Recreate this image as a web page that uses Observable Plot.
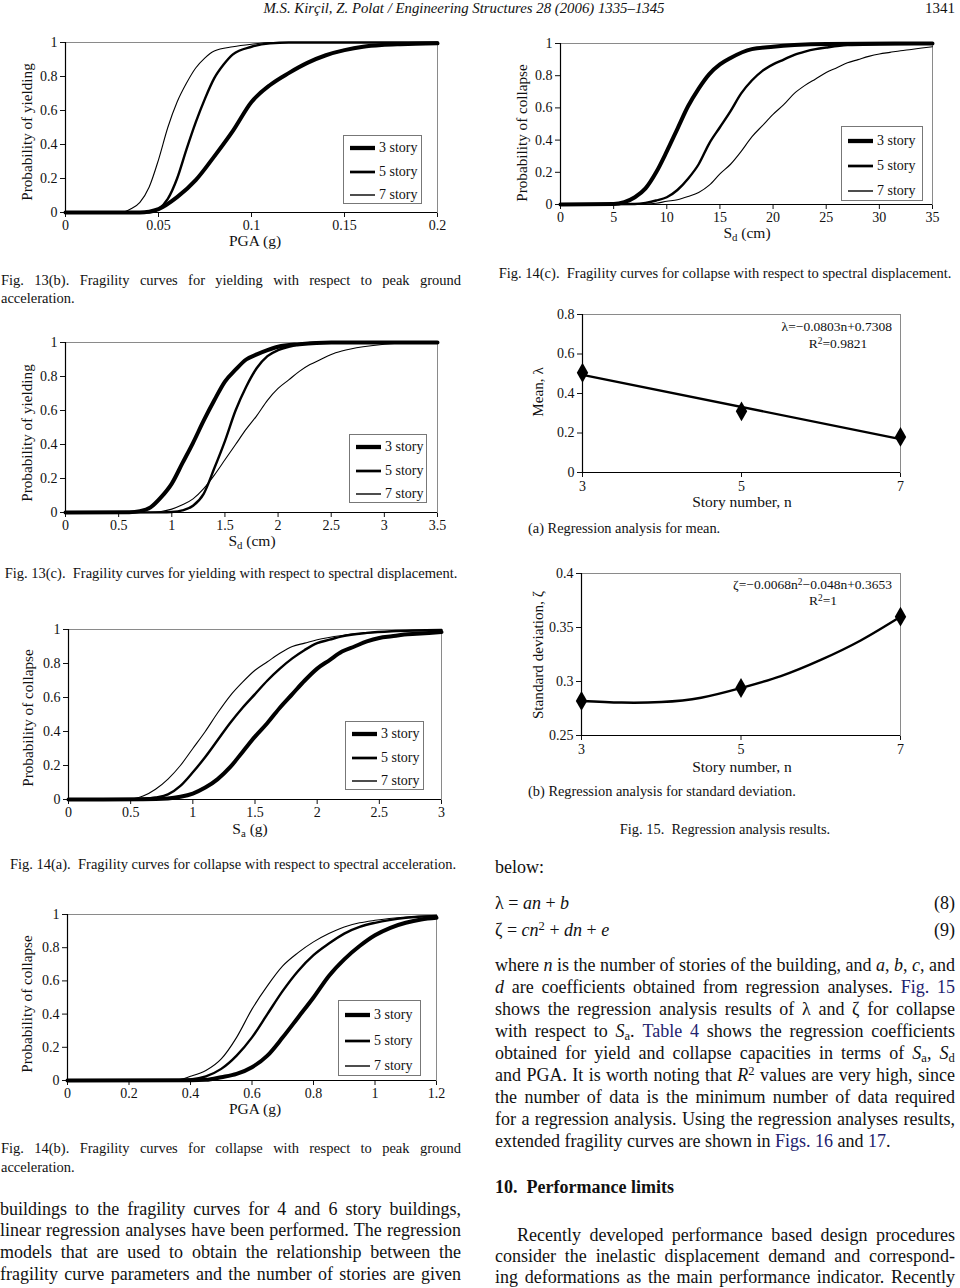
<!DOCTYPE html>
<html><head><meta charset="utf-8">
<script src="https://cdn.jsdelivr.net/npm/d3@7"></script>
<script src="https://cdn.jsdelivr.net/npm/@observablehq/plot@0.6"></script>
<style>
body{margin:0;background:#fff;}
#page{position:relative;width:960px;height:1288px;overflow:hidden;font-family:"Liberation Serif","Times New Roman",serif;color:#111;background:#fff;}
.t{position:absolute;white-space:nowrap;line-height:1.15em;}
.jl{position:absolute;display:flex;justify-content:space-between;white-space:nowrap;line-height:1.15em;}
.yl{position:absolute;white-space:nowrap;transform:translate(-50%,-50%) rotate(-90deg);font-size:15.2px;line-height:16px;}
.lg{position:absolute;border:1px solid #777;background:#fff;box-sizing:border-box;}
a{color:#22226e;text-decoration:none;}
sub{font-size:70%;vertical-align:-0.25em;line-height:0;}
sup{font-size:70%;vertical-align:0.45em;line-height:0;}
</style>
</head><body><div id="page"></div>
<script>
// ---------- data ----------
const storyLabels = ["3 story", "5 story", "7 story"];
const storyWidths = [4, 2.4, 1.1];

// Fig. 13(b): yielding vs PGA (g)
const fig13b_3 = [[0,0],[0.04,0],[0.045,0.005],[0.05,0.02],[0.06,0.09],[0.07,0.19],[0.08,0.33],[0.09,0.48],[0.1,0.65],[0.11,0.75],[0.12,0.82],[0.13,0.88],[0.14,0.925],[0.15,0.955],[0.16,0.975],[0.17,0.985],[0.18,0.99],[0.2,0.995]];
const fig13b_5 = [[0,0],[0.045,0],[0.05,0.02],[0.055,0.08],[0.06,0.2],[0.065,0.37],[0.07,0.53],[0.075,0.67],[0.08,0.79],[0.085,0.87],[0.09,0.93],[0.1,0.975],[0.11,0.995],[0.12,1],[0.2,1]];
const fig13b_7 = [[0,0],[0.03,0],[0.035,0.02],[0.04,0.06],[0.045,0.15],[0.05,0.31],[0.055,0.5],[0.06,0.65],[0.065,0.76],[0.07,0.85],[0.075,0.91],[0.08,0.95],[0.09,0.975],[0.1,0.99],[0.11,1],[0.2,1]];

// Fig. 14(c): collapse vs Sd (cm)
const fig14c_3 = [[0,0],[5,0.003],[6,0.015],[7,0.045],[8,0.1],[9,0.2],[10,0.33],[11,0.47],[12,0.61],[13,0.72],[14,0.81],[15,0.87],[16,0.91],[18,0.965],[20,0.98],[22,0.99],[25,0.997],[35,1]];
const fig14c_5 = [[0,0],[7,0.003],[8,0.01],[9,0.025],[10,0.045],[11,0.09],[12,0.16],[13,0.25],[14,0.38],[15,0.48],[16,0.58],[17,0.69],[18,0.77],[19,0.83],[20,0.87],[21,0.9],[22,0.93],[23,0.95],[24,0.965],[25,0.975],[27,0.99],[30,0.995],[35,1]];
const fig14c_7 = [[0,0],[8,0.003],[9,0.008],[10,0.02],[11,0.03],[12,0.05],[13,0.075],[14,0.12],[15,0.19],[16,0.25],[17,0.33],[18,0.42],[19,0.49],[20,0.56],[21,0.62],[22,0.69],[23,0.74],[24,0.78],[25,0.82],[26,0.85],[27,0.88],[28,0.9],[29,0.92],[30,0.935],[31,0.945],[32,0.955],[33,0.963],[34,0.972],[35,0.98]];

// Fig. 13(c): yielding vs Sd (cm)
const fig13c_3 = [[0,0],[0.6,0.002],[0.7,0.008],[0.8,0.03],[0.9,0.09],[1.0,0.17],[1.1,0.29],[1.2,0.41],[1.3,0.54],[1.4,0.66],[1.5,0.77],[1.6,0.84],[1.7,0.9],[1.8,0.93],[1.9,0.955],[2.0,0.975],[2.2,0.99],[2.5,1],[3.5,1]];
const fig13c_5 = [[0,0],[0.9,0.001],[1.0,0.003],[1.1,0.012],[1.2,0.04],[1.3,0.11],[1.4,0.26],[1.5,0.42],[1.6,0.6],[1.7,0.74],[1.8,0.85],[1.9,0.92],[2.0,0.955],[2.1,0.975],[2.2,0.99],[2.4,1],[3.5,1]];
const fig13c_7 = [[0,0],[0.8,0.001],[0.9,0.006],[1.0,0.02],[1.1,0.045],[1.2,0.08],[1.3,0.14],[1.4,0.22],[1.5,0.31],[1.6,0.4],[1.7,0.49],[1.8,0.57],[1.9,0.66],[2.0,0.73],[2.1,0.78],[2.2,0.83],[2.3,0.87],[2.4,0.9],[2.5,0.93],[2.6,0.95],[2.8,0.975],[3.0,0.99],[3.2,0.997],[3.5,1]];

// Fig. 14(a): collapse vs Sa (g)
const fig14a_3 = [[0,0],[0.6,0.001],[0.8,0.006],[0.9,0.016],[1.0,0.035],[1.1,0.07],[1.2,0.12],[1.3,0.19],[1.4,0.28],[1.5,0.37],[1.6,0.45],[1.7,0.54],[1.8,0.62],[1.9,0.7],[2.0,0.77],[2.1,0.82],[2.2,0.87],[2.3,0.9],[2.4,0.93],[2.5,0.95],[2.6,0.96],[2.7,0.97],[2.8,0.975],[3.0,0.985]];
const fig14a_5 = [[0,0],[0.5,0.001],[0.6,0.004],[0.7,0.012],[0.8,0.03],[0.9,0.08],[1.0,0.16],[1.1,0.25],[1.2,0.35],[1.3,0.45],[1.4,0.54],[1.5,0.62],[1.6,0.7],[1.7,0.77],[1.8,0.83],[1.9,0.88],[2.0,0.92],[2.1,0.94],[2.2,0.96],[2.4,0.98],[2.6,0.99],[3.0,0.997]];
const fig14a_7 = [[0,0],[0.5,0.002],[0.6,0.02],[0.7,0.06],[0.8,0.12],[0.9,0.2],[1.0,0.3],[1.1,0.4],[1.2,0.51],[1.3,0.61],[1.4,0.69],[1.5,0.76],[1.6,0.81],[1.7,0.86],[1.8,0.9],[1.9,0.92],[2.0,0.94],[2.2,0.965],[2.4,0.98],[2.6,0.99],[3.0,0.995]];

// Fig. 14(b): collapse vs PGA (g)
const fig14b_3 = [[0,0],[0.4,0.001],[0.45,0.004],[0.5,0.02],[0.55,0.04],[0.6,0.08],[0.65,0.15],[0.7,0.26],[0.75,0.38],[0.8,0.5],[0.85,0.63],[0.9,0.73],[0.95,0.81],[1.0,0.875],[1.05,0.92],[1.1,0.95],[1.15,0.97],[1.2,0.98]];
const fig14b_5 = [[0,0],[0.35,0.001],[0.4,0.006],[0.45,0.025],[0.5,0.07],[0.55,0.15],[0.6,0.26],[0.65,0.4],[0.7,0.54],[0.75,0.66],[0.8,0.755],[0.85,0.825],[0.9,0.885],[0.95,0.925],[1.0,0.95],[1.1,0.98],[1.2,0.99]];
const fig14b_7 = [[0,0],[0.35,0.002],[0.4,0.025],[0.45,0.06],[0.5,0.13],[0.55,0.26],[0.6,0.43],[0.65,0.57],[0.7,0.69],[0.75,0.77],[0.8,0.835],[0.85,0.885],[0.9,0.925],[0.95,0.95],[1.0,0.965],[1.1,0.985],[1.2,0.995]];

// Fig. 15: regression
const storyNumbers = [3, 5, 7];
const meanValues = [0.505, 0.31, 0.18];
const sdValues = [0.282, 0.294, 0.36];
const sdFitN = [3, 3.5, 4, 4.5, 5, 5.5, 6, 6.5, 7];
const sdFitV = [0.282, 0.2805, 0.281, 0.285, 0.294, 0.305, 0.32, 0.338, 0.36];

const probTicks = [0, 0.2, 0.4, 0.6, 0.8, 1];

// ---------- helpers ----------
const page = document.getElementById("page");
const fmt = d3.format("~g");
const FONT = "'Liberation Serif','Times New Roman',serif";

function text(html, x, y, opt = {}) {
  const d = document.createElement("div");
  d.className = "t";
  const size = opt.size || 18;
  d.style.fontSize = size + "px";
  d.style.left = x + "px";
  d.style.top = (y - size * 0.575) + "px";
  if (opt.anchor === "middle") d.style.transform = "translateX(-50%)";
  if (opt.anchor === "end") d.style.transform = "translateX(-100%)";
  if (opt.italic) d.style.fontStyle = "italic";
  if (opt.bold) d.style.fontWeight = "bold";
  d.innerHTML = html;
  page.appendChild(d);
  return d;
}
function jline(html, x, y, w, size) {
  const d = document.createElement("div");
  d.className = "jl";
  d.style.cssText += `left:${x}px;top:${y - size * 0.575}px;width:${w}px;font-size:${size}px;`;
  d.innerHTML = html.split(" ").map(s => `<span>${s}</span>`).join("");
  page.appendChild(d);
}
function ylabel(html, x, y) {
  const d = document.createElement("div");
  d.className = "yl";
  d.style.left = x + "px"; d.style.top = y + "px";
  d.innerHTML = html;
  page.appendChild(d);
}
function legend(x0, y0, x1, y1) {
  const d = document.createElement("div");
  d.className = "lg";
  const w = x1 - x0, h = y1 - y0;
  d.style.cssText += `left:${x0}px;top:${y0}px;width:${w}px;height:${h}px;`;
  const fr = [0.18, 0.52, 0.85];
  let html = "";
  storyLabels.forEach((s, i) => {
    const cy = h * fr[i];
    html += `<svg style="position:absolute;left:5px;top:${cy - 4}px" width="27" height="8"><line x1="1" x2="26" y1="4" y2="4" stroke="#000" stroke-width="${storyWidths[i] + 0.3}"/></svg>`;
    html += `<div style="position:absolute;left:35px;top:${cy - 9}px;font-size:14px;line-height:18px;white-space:nowrap">${s}</div>`;
  });
  d.innerHTML = html;
  page.appendChild(d);
}
function toRows(arr) { return arr.map(([x, p]) => ({x, p})); }

const mL = 45, mR = 10, mT = 8, mB = 30;
function axisStyle() {
  return {fontFamily: FONT, fontSize: "14px", color: "#111", background: "transparent", overflow: "visible"};
}
function frag(cfg) {
  const w = cfg.x1 - cfg.x0 + mL + mR, h = cfg.yb - cfg.yt + mT + mB;
  const marks = [Plot.frame({stroke: "#8a8a8a", strokeWidth: 1})];
  cfg.series.forEach((s, i) => {
    marks.push(Plot.line(toRows(s), {x: "x", y: "p", stroke: "#000", strokeWidth: storyWidths[i], curve: "monotone-x"}));
  });
  marks.push(Plot.ruleX([cfg.domain[0]], {stroke: "#000", strokeWidth: 1.2}));
  marks.push(Plot.ruleY([0], {stroke: "#000", strokeWidth: 1.2}));
  const svg = Plot.plot({
    width: w, height: h, marginLeft: mL, marginRight: mR, marginTop: mT, marginBottom: mB,
    style: axisStyle(),
    x: {domain: cfg.domain, ticks: cfg.ticks, tickFormat: fmt, tickSize: 5, tickPadding: 3, label: null},
    y: {domain: [0, 1], ticks: probTicks, tickFormat: fmt, tickSize: 5, tickPadding: 3, label: null},
    marks
  });
  svg.style.position = "absolute";
  svg.style.left = (cfg.x0 - mL) + "px";
  svg.style.top = (cfg.yt - mT) + "px";
  page.appendChild(svg);
}
function d3range(a, b, s) { return d3.range(a, b + s / 2, s).map(v => +v.toFixed(4)); }

// ---------- header ----------
text("M.S. Kirçil, Z. Polat / Engineering Structures 28 (2006) 1335–1345", 464, 9, {anchor: "middle", italic: true, size: 14.8});
text("1341", 955, 9, {anchor: "end", size: 15});

// ---------- Fig 13(b) ----------
frag({x0: 65, x1: 437, yt: 42, yb: 212, domain: [0, 0.2], ticks: [0, 0.05, 0.1, 0.15, 0.2], series: [fig13b_3, fig13b_5, fig13b_7]});
legend(343, 135, 422, 204);
ylabel("Probability of yielding", 27, 132);
text("PGA (g)", 255, 241, {anchor: "middle", size: 15.5});
jline("Fig. 13(b). Fragility curves for yielding with respect to peak ground", 1, 280, 460, 14.5);
text("acceleration.", 1, 298, {size: 14.5});

// ---------- Fig 14(c) ----------
frag({x0: 560, x1: 932, yt: 43, yb: 204, domain: [0, 35], ticks: d3range(0, 35, 5), series: [fig14c_3, fig14c_5, fig14c_7]});
legend(841, 126, 923, 201);
ylabel("Probability of collapse", 522, 133);
text("S<sub>d</sub> (cm)", 747, 233, {anchor: "middle", size: 15.5});
text("Fig. 14(c).&nbsp; Fragility curves for collapse with respect to spectral displacement.", 725, 273, {anchor: "middle", size: 14.5});

// ---------- Fig 13(c) ----------
frag({x0: 65, x1: 437, yt: 342, yb: 512, domain: [0, 3.5], ticks: d3range(0, 3.5, 0.5), series: [fig13c_3, fig13c_5, fig13c_7]});
legend(349, 434, 427, 503);
ylabel("Probability of yielding", 27, 433);
text("S<sub>d</sub> (cm)", 252, 541, {anchor: "middle", size: 15.5});
text("Fig. 13(c).&nbsp; Fragility curves for yielding with respect to spectral displacement.", 231, 573, {anchor: "middle", size: 14.5});

// ---------- Fig 14(a) ----------
frag({x0: 68, x1: 441, yt: 629, yb: 799, domain: [0, 3], ticks: d3range(0, 3, 0.5), series: [fig14a_3, fig14a_5, fig14a_7]});
legend(345, 721, 424, 790);
ylabel("Probability of collapse", 28, 718);
text("S<sub>a</sub> (g)", 250, 829, {anchor: "middle", size: 15.5});
text("Fig. 14(a).&nbsp; Fragility curves for collapse with respect to spectral acceleration.", 233, 864, {anchor: "middle", size: 14.5});

// ---------- Fig 14(b) ----------
frag({x0: 67, x1: 436, yt: 914, yb: 1080, domain: [0, 1.2], ticks: d3range(0, 1.2, 0.2), series: [fig14b_3, fig14b_5, fig14b_7]});
legend(338, 1000, 421, 1076);
ylabel("Probability of collapse", 27, 1004);
text("PGA (g)", 255, 1109, {anchor: "middle", size: 15.5});
jline("Fig. 14(b). Fragility curves for collapse with respect to peak ground", 1, 1148, 460, 14.5);
text("acceleration.", 1, 1167, {size: 14.5});

// ---------- Fig 15(a) ----------
(function () {
  const x0 = 582, x1 = 900, yt = 314, yb = 472;
  const rows = storyNumbers.map((n, i) => ({n, v: meanValues[i]}));
  const svg = Plot.plot({
    width: x1 - x0 + mL + mR, height: yb - yt + mT + mB, marginLeft: mL, marginRight: mR, marginTop: mT, marginBottom: mB,
    style: axisStyle(),
    x: {domain: [3, 7], ticks: storyNumbers, tickFormat: fmt, tickSize: 5, tickPadding: 4, label: null},
    y: {domain: [0, 0.8], ticks: [0, 0.2, 0.4, 0.6, 0.8], tickFormat: fmt, tickSize: 5, tickPadding: 3, label: null},
    marks: [
      Plot.frame({stroke: "#8a8a8a"}),
      Plot.linearRegressionY(rows, {x: "n", y: "v", stroke: "#000", strokeWidth: 2.4, ci: 0}),
      Plot.dot(rows, {x: "n", y: "v", symbol: "diamond", fill: "#000", stroke: "none", r: 6}),
      Plot.ruleX([3], {stroke: "#000", strokeWidth: 1.2}),
      Plot.ruleY([0], {stroke: "#000", strokeWidth: 1.2})
    ]
  });
  svg.style.position = "absolute"; svg.style.left = (x0 - mL) + "px"; svg.style.top = (yt - mT) + "px";
  page.appendChild(svg);
})();
text("λ=−0.0803n+0.7308", 892, 327, {anchor: "end", size: 13.5});
text("R<sup>2</sup>=0.9821", 838, 344, {anchor: "middle", size: 13.5});
ylabel("Mean, λ", 538, 392);
text("Story number, n", 742, 502, {anchor: "middle", size: 15.5});
text("(a) Regression analysis for mean.", 528, 528, {size: 14.4});

// ---------- Fig 15(b) ----------
(function () {
  const x0 = 581, x1 = 900, yt = 573, yb = 735;
  const rows = storyNumbers.map((n, i) => ({n, v: sdValues[i]}));
  const fit = sdFitN.map((n, i) => ({n, v: sdFitV[i]}));
  const svg = Plot.plot({
    width: x1 - x0 + mL + mR, height: yb - yt + mT + mB, marginLeft: mL, marginRight: mR, marginTop: mT, marginBottom: mB,
    style: axisStyle(),
    x: {domain: [3, 7], ticks: storyNumbers, tickFormat: fmt, tickSize: 5, tickPadding: 4, label: null},
    y: {domain: [0.25, 0.4], ticks: [0.25, 0.3, 0.35, 0.4], tickFormat: fmt, tickSize: 5, tickPadding: 3, label: null},
    marks: [
      Plot.frame({stroke: "#8a8a8a"}),
      Plot.line(fit, {x: "n", y: "v", stroke: "#000", strokeWidth: 2.4, curve: "natural"}),
      Plot.dot(rows, {x: "n", y: "v", symbol: "diamond", fill: "#000", stroke: "none", r: 6}),
      Plot.ruleX([3], {stroke: "#000", strokeWidth: 1.2}),
      Plot.ruleY([0.25], {stroke: "#000", strokeWidth: 1.2})
    ]
  });
  svg.style.position = "absolute"; svg.style.left = (x0 - mL) + "px"; svg.style.top = (yt - mT) + "px";
  page.appendChild(svg);
})();
text("ζ=−0.0068n<sup>2</sup>−0.048n+0.3653", 892, 585, {anchor: "end", size: 13.5});
text("R<sup>2</sup>=1", 823, 601, {anchor: "middle", size: 13.5});
ylabel("Standard deviation, ζ", 538, 655);
text("Story number, n", 742, 767, {anchor: "middle", size: 15.5});
text("(b) Regression analysis for standard deviation.", 528, 791, {size: 14.4});
text("Fig. 15.&nbsp; Regression analysis results.", 725, 829, {anchor: "middle", size: 14.4});

// ---------- body text, left ----------
const BODY = 18;
const leftLines = [
  "buildings to the fragility curves for 4 and 6 story buildings,",
  "linear regression analyses have been performed. The regression",
  "models that are used to obtain the relationship between the",
  "fragility curve parameters and the number of stories are given"
];
leftLines.forEach((l, i) => jline(l, 0, 1209 + i * 21.7, 461, BODY));

// ---------- body text, right ----------
text("below:", 495, 867, {size: BODY});
text("λ = <i>an</i> + <i>b</i>", 495, 903, {size: BODY});
text("(8)", 955, 903, {anchor: "end", size: BODY});
text("ζ = <i>cn</i><sup>2</sup> + <i>dn</i> + <i>e</i>", 495, 930, {size: BODY});
text("(9)", 955, 930, {anchor: "end", size: BODY});
const rightLines = [
  "where <i>n</i> is the number of stories of the building, and <i>a</i>, <i>b</i>, <i>c</i>, and",
  "<i>d</i> are coefficients obtained from regression analyses. <a>Fig.</a> <a>15</a>",
  "shows the regression analysis results of λ and ζ for collapse",
  "with respect to <i>S</i><sub>a</sub>. <a>Table</a> <a>4</a> shows the regression coefficients",
  "obtained for yield and collapse capacities in terms of <i>S</i><sub>a</sub>, <i>S</i><sub>d</sub>",
  "and PGA. It is worth noting that <i>R</i><sup>2</sup> values are very high, since",
  "the number of data is the minimum number of data required",
  "for a regression analysis. Using the regression analyses results,"
];
rightLines.forEach((l, i) => jline(l, 495, 965 + i * 22.1, 460, BODY));
text("extended fragility curves are shown in <a>Figs. 16</a> and <a>17</a>.", 495, 965 + 8 * 22.1, {size: BODY});

text("10.&nbsp; Performance limits", 495, 1187, {bold: true, size: BODY});
jline("Recently developed performance based design procedures", 517, 1235, 438, BODY);
jline("consider the inelastic displacement demand and correspond-", 495, 1256, 460, BODY);
jline("ing deformations as the main performance indicator. Recently", 495, 1277, 460, BODY);
</script>
</body></html>
